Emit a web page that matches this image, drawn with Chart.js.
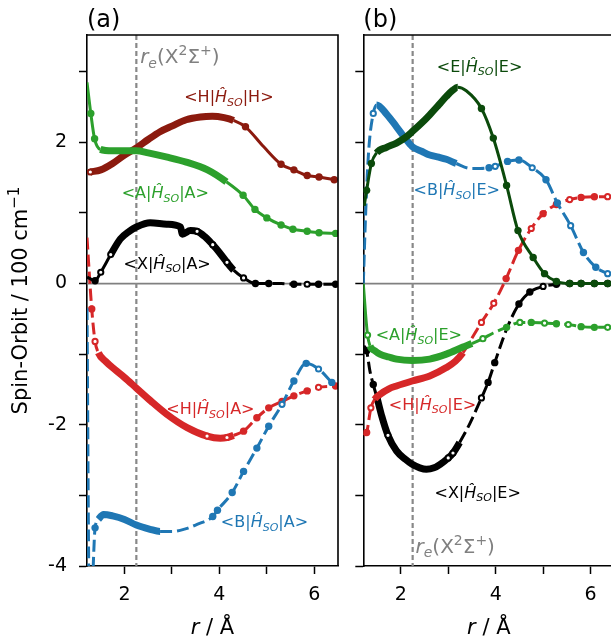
<!DOCTYPE html>
<html>
<head>
<meta charset="utf-8">
<title>Spin-orbit matrix elements</title>
<script src="https://cdn.jsdelivr.net/npm/chart.js@4.4.1/dist/chart.umd.min.js"></script>
<style>
  html, body { margin: 0; padding: 0; background: #fff; overflow: hidden; width: 611px; height: 644px; }
  canvas { position: absolute; top: 0; }
  #panelA { left: 0; }
  #panelB { left: 345px; }
</style>
</head>
<body>
<canvas id="panelA" width="345" height="644"></canvas>
<canvas id="panelB" width="277" height="644"></canvas>
<script>
const FONT = "DejaVu Sans";
const DARK_RED = "#8b1a0e";
const DARK_GREEN = "#0b4a0b";
const GREEN = "#2ca02c";
const RED = "#d62728";
const BLUE = "#1f77b4";
const BLACK = "#000000";
const GREY = "#808080";

const R_E = 2.25; // equilibrium distance of X2Sigma+, Angstrom
const X_MIN = 1.21, X_MAX = 6.5;
const Y_MIN = -4, Y_MAX = 3.52;
const xTicks = [2, 3, 4, 5, 6];
const yTicks = [-4, -3, -2, -1, 0, 1, 2, 3];

// ---- (a) couplings, in 100 cm^-1 ----
const rHH = [1.28, 1.5, 1.75, 2.0, 2.25, 2.5, 2.75, 3.0, 3.3, 3.6, 3.85, 4.1, 4.3, 4.55, 4.93, 5.3, 5.57, 5.85, 6.1, 6.42];
const soHH = [1.58, 1.61, 1.70, 1.82, 1.92, 2.04, 2.15, 2.23, 2.32, 2.36, 2.37, 2.35, 2.31, 2.22, 1.94, 1.69, 1.61, 1.53, 1.51, 1.47];

const rAA = [1.21, 1.29, 1.37, 1.49, 1.75, 2.0, 2.25, 2.5, 2.9, 3.3, 3.75, 4.15, 4.5, 4.75, 5.0, 5.3, 5.55, 5.85, 6.1, 6.45];
const soAA = [2.85, 2.41, 2.05, 1.90, 1.88, 1.88, 1.88, 1.85, 1.79, 1.72, 1.61, 1.44, 1.25, 1.05, 0.93, 0.83, 0.77, 0.74, 0.72, 0.71];

const rXA = [1.21, 1.3, 1.38, 1.5, 1.71, 1.91, 2.1, 2.25, 2.54, 2.89, 3.18, 3.22, 3.39, 3.53, 3.7, 3.86, 4.0, 4.16, 4.3, 4.51, 4.76, 5.04, 5.3, 5.57, 5.85, 6.09, 6.45];
const soXA = [0.09, 0.06, 0.04, 0.16, 0.41, 0.63, 0.74, 0.80, 0.86, 0.84, 0.80, 0.70, 0.75, 0.74, 0.66, 0.55, 0.44, 0.30, 0.19, 0.08, 0.0, 0.0, 0.0, -0.01, -0.01, -0.01, -0.01];

const rHA = [1.21, 1.31, 1.38, 1.45, 1.6, 1.8, 2.0, 2.25, 2.55, 2.89, 3.32, 3.74, 4.02, 4.16, 4.3, 4.51, 4.79, 5.04, 5.32, 5.57, 5.85, 6.09, 6.45];
const soHA = [0.65, -0.36, -0.82, -0.98, -1.10, -1.22, -1.33, -1.48, -1.66, -1.85, -2.04, -2.16, -2.19, -2.18, -2.15, -2.09, -1.90, -1.76, -1.67, -1.59, -1.52, -1.47, -1.45];

const rBA = [1.21, 1.26, 1.32, 1.38, 1.45, 1.56, 1.75, 2.0, 2.25, 2.54, 2.75, 3.03, 3.3, 3.53, 3.86, 3.96, 4.27, 4.51, 4.79, 5.04, 5.32, 5.57, 5.83, 6.09, 6.37];
const soBA = [-0.35, -4.6, -4.3, -3.46, -3.34, -3.27, -3.29, -3.34, -3.42, -3.48, -3.51, -3.51, -3.47, -3.41, -3.30, -3.21, -2.96, -2.66, -2.33, -2.02, -1.71, -1.38, -1.13, -1.21, -1.40];

// ---- (b) couplings with the E state ----
const rEE = [1.23, 1.28, 1.38, 1.49, 1.7, 1.91, 2.1, 2.24, 2.45, 2.61, 2.8, 2.96, 3.1, 3.2, 3.38, 3.7, 3.95, 4.23, 4.47, 4.79, 5.03, 5.28, 5.56, 5.80, 6.08, 6.36];
const soEE = [1.10, 1.32, 1.70, 1.85, 1.93, 1.99, 2.07, 2.15, 2.28, 2.39, 2.53, 2.65, 2.74, 2.78, 2.73, 2.48, 2.06, 1.39, 0.75, 0.37, 0.14, 0.03, 0.0, 0.0, 0.0, 0.0];

const rBE = [1.21, 1.26, 1.32, 1.42, 1.49, 1.7, 1.91, 2.1, 2.24, 2.45, 2.61, 2.8, 2.96, 3.17, 3.47, 3.67, 3.86, 3.99, 4.25, 4.49, 4.77, 5.06, 5.30, 5.58, 5.85, 6.11, 6.36];
const soBE = [0.0, 1.0, 1.85, 2.41, 2.53, 2.40, 2.22, 2.05, 1.94, 1.87, 1.82, 1.79, 1.76, 1.70, 1.63, 1.63, 1.64, 1.66, 1.73, 1.75, 1.64, 1.47, 1.14, 0.82, 0.44, 0.23, 0.14];

const rAE = [1.21, 1.26, 1.30, 1.35, 1.45, 1.56, 1.75, 1.91, 2.24, 2.61, 2.96, 3.31, 3.5, 3.73, 3.95, 4.23, 4.51, 4.75, 5.03, 5.28, 5.53, 5.80, 6.08, 6.36];
const soAE = [0.0, -0.45, -0.73, -0.88, -0.95, -1.0, -1.04, -1.07, -1.09, -1.07, -1.0, -0.90, -0.85, -0.78, -0.70, -0.62, -0.55, -0.55, -0.56, -0.57, -0.58, -0.61, -0.62, -0.62];

const rHE = [1.22, 1.28, 1.37, 1.45, 1.56, 1.75, 1.91, 2.24, 2.61, 2.96, 3.15, 3.31, 3.45, 3.70, 3.96, 4.22, 4.48, 4.75, 5.0, 5.28, 5.56, 5.80, 6.08, 6.36];
const soHE = [-2.15, -2.11, -1.76, -1.64, -1.57, -1.49, -1.45, -1.38, -1.31, -1.19, -1.10, -0.98, -0.83, -0.55, -0.28, 0.07, 0.47, 0.78, 0.99, 1.12, 1.19, 1.22, 1.23, 1.23];

const rXE = [1.22, 1.28, 1.35, 1.42, 1.5, 1.6, 1.73, 1.91, 2.1, 2.24, 2.4, 2.54, 2.7, 2.83, 3.0, 3.1, 3.24, 3.45, 3.70, 3.84, 3.98, 4.24, 4.49, 4.72, 5.0, 5.28, 5.56, 5.80, 6.08, 6.36];
const soXE = [-0.88, -0.95, -1.24, -1.43, -1.62, -1.88, -2.15, -2.37, -2.49, -2.56, -2.61, -2.63, -2.61, -2.56, -2.47, -2.40, -2.25, -1.99, -1.62, -1.40, -1.12, -0.63, -0.29, -0.12, -0.04, -0.01, 0, 0, 0, 0];

// marks: f = filled circle, o = open circle, - = no marker
// dense: r-range drawn as a heavy band, dashed: r-ranges drawn dashed
const panelA = [
  { name: ["B", "A"], r: rBA, v: soBA, color: BLUE, marks: "---f----------ffffffoffof", dense: [1.42, 2.78], dashed: [[1.2, 1.45], [2.75, 7]], label: [4.95, -3.45] },
  { name: ["A", "A"], r: rAA, v: soAA, color: GREEN, marks: "-ff---------ffffffff", dense: [1.45, 4.4], dashed: [], label: [2.86, 1.21] },
  { name: ["X", "A"], r: rXA, v: soXA, color: BLACK, marks: "--foo--------o-o-o-off-foff", dense: [1.7, 4.45], dashed: [[4.76, 7]], label: [2.90, 0.21] },
  { name: ["H", "A"], r: rHA, v: soHA, color: RED, marks: "-fo--------o-o-ffffffof", dense: [1.45, 4.45], dashed: [[1.2, 1.45], [4.5, 7]], label: [3.81, -1.85] },
  { name: ["H", "H"], r: rHH, v: soHH, color: DARK_RED, marks: "o------------f-fffff", dense: [1.28, 4.4], dashed: [], label: [4.20, 2.57] },
];

const panelB = [
  { name: ["E", "E"], r: rEE, v: soEE, color: DARK_GREEN, marks: "-ff------------fffffffffff", dense: [1.45, 3.22], dashed: [], label: [3.66, 3.0] },
  { name: ["B", "E"], r: rBE, v: soBE, color: BLUE, marks: "---o------------foffoffoffo", dense: [1.45, 3.17], dashed: [[1.2, 1.45], [3.17, 7]], label: [3.18, 1.25] },
  { name: ["A", "E"], r: rAE, v: soAE, color: GREEN, marks: "--o----------o-fofofoffo", dense: [1.32, 3.6], dashed: [[3.73, 7]], label: [2.38, -0.80] },
  { name: ["H", "E"], r: rHE, v: soHE, color: RED, marks: "-fo----------ooffoffoffo", dense: [1.42, 3.31], dashed: [[1.2, 1.38], [3.31, 7]], label: [2.67, -1.79] },
  { name: ["X", "E"], r: rXE, v: soXE, color: BLACK, marks: "-f-fo-o-------oo--off-ffofffff", dense: [1.45, 3.25], dashed: [[1.2, 1.45], [3.24, 7]], label: [3.62, -3.03] },
];

const inside = (x, rg) => x >= rg[0] - 1e-6 && x <= rg[1] + 1e-6;

function makeDataset(s) {
  const inDashed = x => s.dashed.some(rg => inside(x, rg));
  return {
    data: s.r.map((r, i) => ({ x: r, y: s.v[i] })),
    borderColor: s.color,
    borderWidth: 3,
    borderCapStyle: "butt",
    borderJoinStyle: "round",
    cubicInterpolationMode: "monotone",
    clip: 0,
    segment: {
      borderWidth: ctx => (inside(ctx.p0.parsed.x, s.dense) && inside(ctx.p1.parsed.x, s.dense)) ? 7 : 3,
      borderDash: ctx => (inDashed(ctx.p0.parsed.x) && inDashed(ctx.p1.parsed.x)) ? [12, 5] : [],
    },
    pointRadius: ctx => ({ f: 3.7, o: 2.6 }[s.marks[ctx.dataIndex]] || 0),
    pointBorderWidth: ctx => s.marks[ctx.dataIndex] === "o" ? 2 : 0,
    pointBackgroundColor: ctx => s.marks[ctx.dataIndex] === "o" ? "#fff" : s.color,
    pointBorderColor: s.color,
  };
}

// draws a run of [text, style] pieces; styles: n, i, isub, sup
function drawRich(ctx, parts, x, y, size, align) {
  const fontOf = st => {
    if (st === "i") return `italic ${size}px "${FONT}"`;
    if (st === "isub") return `italic ${Math.round(size * 0.7)}px "${FONT}"`;
    if (st === "sup") return `${Math.round(size * 0.7)}px "${FONT}"`;
    return `${size}px "${FONT}"`;
  };
  const shift = st => st === "isub" ? size * 0.22 : st === "sup" ? -size * 0.4 : 0;
  let w = 0;
  parts.forEach(([t, st]) => { ctx.font = fontOf(st); w += ctx.measureText(t).width; });
  let cx = align === "center" ? x - w / 2 : x;
  ctx.textAlign = "left";
  ctx.textBaseline = "alphabetic";
  parts.forEach(([t, st]) => {
    ctx.font = fontOf(st);
    ctx.fillText(t, cx, y + shift(st));
    cx += ctx.measureText(t).width;
  });
}

const matrixLabel = (bra, ket) => [["<" + bra + "|", "n"], ["\u0124", "i"], ["SO", "isub"], ["|" + ket + ">", "n"]];
const reLabel = [["r", "i"], ["e", "isub"], ["(X", "n"], ["2", "sup"], ["\u03a3", "n"], ["+", "sup"], [")", "n"]];

function decor(opts) {
  return {
    id: "decor",
    beforeDatasetsDraw(chart) {
      const { ctx, chartArea: a, scales: { x, y } } = chart;
      ctx.save();
      ctx.beginPath();
      ctx.rect(a.left, a.top, a.right - a.left, a.bottom - a.top);
      ctx.clip();
      const y0 = y.getPixelForValue(0);
      ctx.strokeStyle = GREY;
      ctx.lineWidth = 1.8;
      ctx.beginPath(); ctx.moveTo(a.left, y0); ctx.lineTo(a.right, y0); ctx.stroke();
      const xr = x.getPixelForValue(R_E);
      ctx.strokeStyle = "#888";
      ctx.lineWidth = 2.2;
      ctx.setLineDash([5, 3]);
      ctx.beginPath(); ctx.moveTo(xr, a.top); ctx.lineTo(xr, a.bottom); ctx.stroke();
      ctx.restore();
    },
    afterDraw(chart) {
      const { ctx, chartArea: a, scales: { x, y } } = chart;
      ctx.save();
      // top and right spines
      ctx.strokeStyle = "#000";
      ctx.lineWidth = 1.6;
      ctx.beginPath();
      ctx.moveTo(a.left, a.top); ctx.lineTo(a.right, a.top); ctx.lineTo(a.right, a.bottom);
      ctx.stroke();

      opts.series.forEach(s => {
        ctx.fillStyle = s.color;
        drawRich(ctx, matrixLabel(s.name[0], s.name[1]), x.getPixelForValue(s.label[0]), y.getPixelForValue(s.label[1]), 16, "center");
      });
      ctx.fillStyle = GREY;
      drawRich(ctx, reLabel, x.getPixelForValue(opts.re[0]), y.getPixelForValue(opts.re[1]), 20, "left");

      ctx.fillStyle = "#000";
      drawRich(ctx, [[opts.tag, "n"]], a.left, 27, 24, "left");
      drawRich(ctx, [["r", "i"], [" / \u00c5", "n"]], (a.left + a.right) / 2, 634, 21, "center");
      if (opts.yTitle) {
        ctx.translate(27, (a.top + a.bottom) / 2);
        ctx.rotate(-Math.PI / 2);
        drawRich(ctx, [["Spin-Orbit / 100 cm", "n"], ["\u22121", "sup"]], 0, 0, 21, "center");
      }
      ctx.restore();
    },
  };
}

function axes(showYLabels, yWidth) {
  const tickFont = { family: FONT, size: 19 };
  const grid = { drawOnChartArea: false, drawTicks: true, tickLength: 8, tickColor: "#000", tickWidth: 1.5 };
  const border = { display: true, color: "#000", width: 1.6 };
  return {
    x: {
      type: "linear", position: "bottom", min: X_MIN, max: X_MAX, grid, border,
      afterBuildTicks: sc => { sc.ticks = xTicks.map(value => ({ value })); },
      afterFit: sc => { sc.height = 78; },
      ticks: { color: "#000", font: tickFont, padding: 10, maxRotation: 0, autoSkip: false,
        callback: v => v % 2 === 0 ? String(v) : "" },
    },
    y: {
      type: "linear", position: "left", min: Y_MIN, max: Y_MAX, grid, border,
      afterBuildTicks: sc => { sc.ticks = yTicks.map(value => ({ value })); },
      afterFit: sc => { sc.width = yWidth; },
      ticks: { color: "#000", font: tickFont, padding: 12, autoSkip: false,
        callback: v => showYLabels && v % 2 === 0 ? String(v) : "" },
    },
  };
}

function makePanel(id, series, opts) {
  new Chart(document.getElementById(id), {
    type: "line",
    data: { datasets: series.map(makeDataset) },
    options: {
      responsive: false,
      animation: false,
      events: [],
      layout: { padding: opts.padding },
      plugins: { legend: { display: false }, tooltip: { enabled: false } },
      scales: axes(opts.yLabels, opts.yWidth),
    },
    plugins: [decor({ series, tag: opts.tag, re: opts.re, yTitle: opts.yLabels })],
  });
}

makePanel("panelA", panelA, {
  tag: "(a)", yLabels: true, yWidth: 87, re: [2.33, 3.12],
  padding: { left: 0, right: 7, top: 35, bottom: 0 },
});
makePanel("panelB", panelB, {
  tag: "(b)", yLabels: false, yWidth: 18.3, re: [2.31, -3.81],
  padding: { left: 0, right: 7.7, top: 35, bottom: 0 },
});
</script>
</body>
</html>
